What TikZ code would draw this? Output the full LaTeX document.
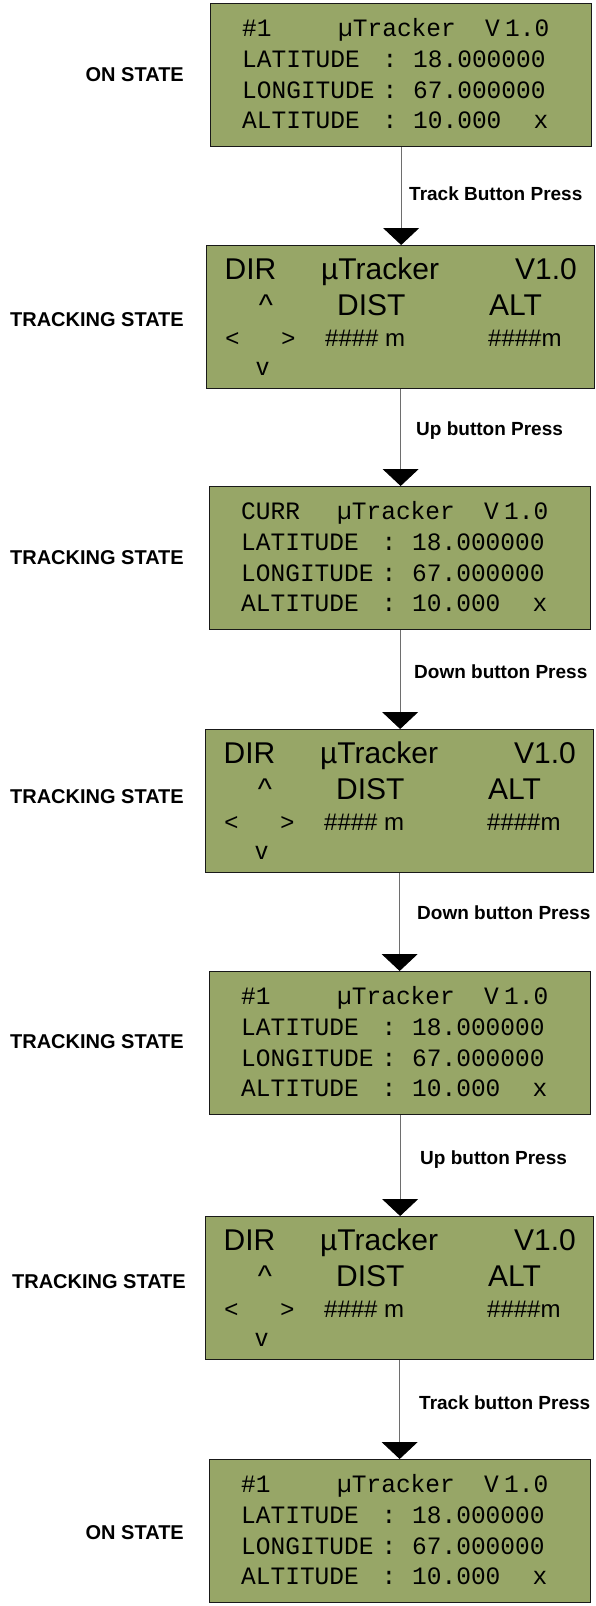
\documentclass[tikz,border=0pt]{standalone}
\usepackage{fontspec}
\setmainfont{Liberation Sans}
\newfontfamily\lcdmono[FakeStretch=0.98]{Liberation Mono}
\newfontfamily\lcdsans{Liberation Sans}
\usetikzlibrary{arrows.meta}
\definecolor{lcdgreen}{RGB}{151,166,103}
\definecolor{wire}{RGB}{110,110,110}

\tikzset{
  screen/.style={draw=black!90, line width=1.3pt, fill=lcdgreen, inner sep=0pt,
    anchor=north west, minimum height=143pt},
  monotxt/.style={font=\lcdmono\fontsize{25}{25}\selectfont, inner sep=0pt, anchor=base west},
  bigtxt/.style={font=\lcdsans\fontsize{30}{30}\selectfont, inner sep=0pt, anchor=base west},
  smalltxt/.style={font=\lcdsans\fontsize{24}{24}\selectfont, inner sep=0pt, anchor=base west},
  statelbl/.style={font=\bfseries\fontsize{20}{20}\selectfont, anchor=base east, inner sep=0pt},
  presslbl/.style={font=\bfseries\fontsize{19}{19}\selectfont, anchor=base west, inner sep=0pt},
  flow/.style={draw=wire, line width=1pt, -{Triangle[width=36pt,length=17pt,color=black]}},
}

% GPS read-out screen: name, x, y of top-left corner, tag of the first row
\newcommand\gpsscreen[4]{%
  \node[screen, minimum width=381pt] (#1) at (#2,#3) {};
  \begin{scope}[shift={(#2,#3)}]
    \node[monotxt] (#1-tag) at (32,33.5) {#4};
    \node[monotxt] (#1-name) at (128,33.5) {µTracker};
    \node[monotxt] (#1-v) at (275,33.5) {V};
    \node[monotxt] (#1-ver) at (295,33.5) {1.0};
    \node[monotxt] (#1-lat) at (32,64.5) {LATITUDE};
    \node[monotxt, anchor=base] (#1-latc) at (180,64.5) {:};
    \node[monotxt] (#1-latv) at (203,64.5) {18.000000};
    \node[monotxt] (#1-lon) at (32,95) {LONGITUDE};
    \node[monotxt, anchor=base] (#1-lonc) at (180,95) {:};
    \node[monotxt] (#1-lonv) at (203,95) {67.000000};
    \node[monotxt] (#1-alt) at (32,125.5) {ALTITUDE};
    \node[monotxt, anchor=base] (#1-altc) at (180,125.5) {:};
    \node[monotxt] (#1-altv) at (203,125.5) {10.000};
    \node[monotxt, anchor=base] (#1-x) at (331,125.5) {x};
  \end{scope}}

% direction screen: name, x, y of top-left corner
\newcommand\dirscreen[3]{%
  \node[screen, minimum width=388pt] (#1) at (#2,#3) {};
  \begin{scope}[shift={(#2,#3)}]
    \node[bigtxt] (#1-dir) at (18.5,34.5) {DIR};
    \node[bigtxt] (#1-name) at (115,34.5) {µTracker};
    \node[bigtxt, anchor=base east] (#1-ver) at (371,34.5) {V1.0};
    \node[bigtxt, anchor=base] (#1-up) at (60,70.5) {\textasciicircum};
    \node[bigtxt] (#1-dist) at (131,70.5) {DIST};
    \node[bigtxt] (#1-alt) at (283,70.5) {ALT};
    \node[smalltxt, anchor=base] (#1-left) at (26.5,101) {<};
    \node[smalltxt, anchor=base] (#1-right) at (82.5,101) {>};
    \node[smalltxt] (#1-distv) at (119,101) {\#\#\#\# m};
    \node[smalltxt] (#1-altv) at (282,101) {\#\#\#\#m};
    \node[font=\lcdsans\fontsize{25}{25}\selectfont, inner sep=0pt, anchor=base] (#1-down) at (56.5,130.5) {v};
  \end{scope}}

\begin{document}
\begin{tikzpicture}[x=1pt, y=-1pt]
  \useasboundingbox (0,0) rectangle (595,1606);

  \gpsscreen{s1}{210}{3}{\#1}
  \dirscreen{s2}{206}{245}
  \gpsscreen{s3}{209}{486}{CURR}
  \dirscreen{s4}{205}{729}
  \gpsscreen{s5}{209}{971}{\#1}
  \dirscreen{s6}{205}{1216}
  \gpsscreen{s7}{209}{1459}{\#1}

  % state names beside the screens
  \node[statelbl] (l1) at (184,81.5) {ON STATE};
  \node[statelbl] (l2) at (184,326) {TRACKING STATE};
  \node[statelbl] (l3) at (184,564) {TRACKING STATE};
  \node[statelbl] (l4) at (184,803) {TRACKING STATE};
  \node[statelbl] (l5) at (184,1048.5) {TRACKING STATE};
  \node[statelbl] (l6) at (186,1288) {TRACKING STATE};
  \node[statelbl] (l7) at (184,1539) {ON STATE};

  % transitions
  \draw[flow] (s1.south) -- (s1.south |- s2.north);
  \draw[flow] (s2.south) -- (s2.south |- s3.north);
  \draw[flow] (s3.south) -- (s3.south |- s4.north);
  \draw[flow] (s4.south) -- (s4.south |- s5.north);
  \draw[flow] (s5.south) -- (s5.south |- s6.north);
  \draw[flow] (s6.south) -- (s6.south |- s7.north);

  \node[presslbl] (p1) at (409,200.5) {Track Button Press};
  \node[presslbl] (p2) at (416,435) {Up button Press};
  \node[presslbl] (p3) at (414,678) {Down button Press};
  \node[presslbl] (p4) at (417,919.5) {Down button Press};
  \node[presslbl] (p5) at (420,1164) {Up button Press};
  \node[presslbl] (p6) at (419,1409) {Track button Press};
\end{tikzpicture}
\end{document}
